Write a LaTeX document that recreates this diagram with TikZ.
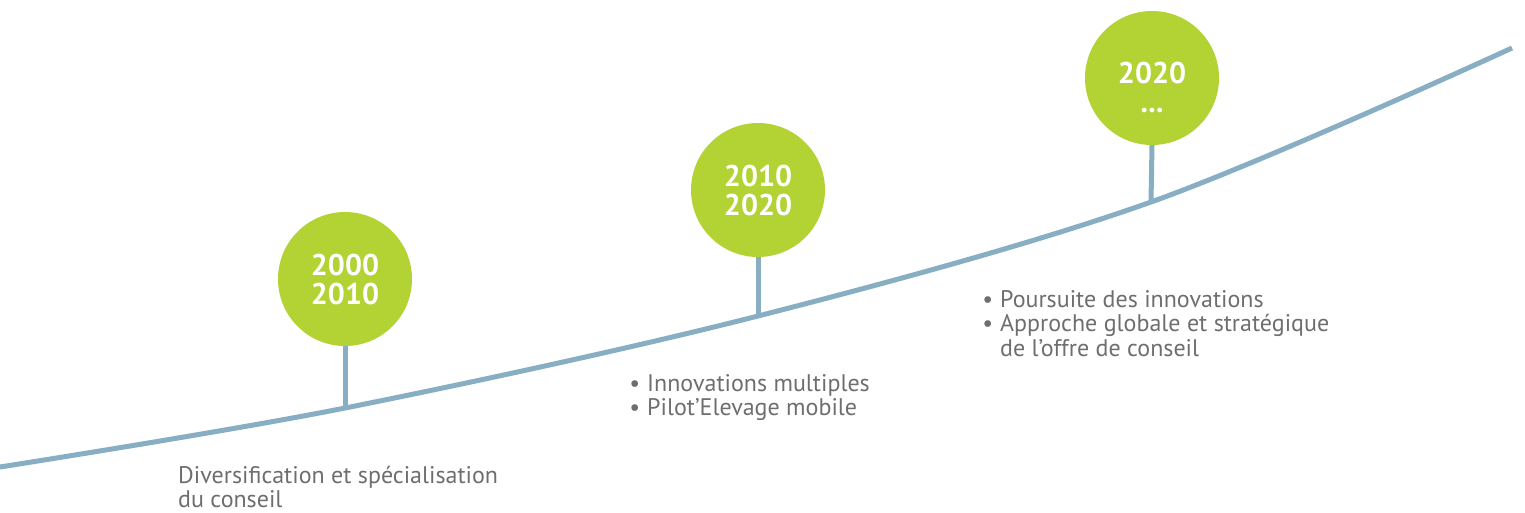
\documentclass[tikz,border=0pt]{standalone}
\usepackage{fontspec}
\setmainfont{PT Sans}
\definecolor{lime}{HTML}{B3D234}
\definecolor{steel}{HTML}{87AEC3}
\definecolor{txtgrey}{HTML}{6D6E70}
\begin{document}
\begin{tikzpicture}[x=1pt, y=-1pt,
        year/.style={circle, fill=lime, minimum size=134pt, inner sep=0pt,
            text=white, align=center, font=\fontsize{30}{29}\selectfont\bfseries},
        stem/.style={steel, line width=5pt},
        caption/.style={anchor=north west, inner sep=0pt, text=txtgrey,
            align=left, font=\fontsize{24}{24.5}\selectfont}]
        \useasboundingbox (0,0) rectangle (1525,512);
        % points on the line
        \coordinate (start) at (0,467);
        \coordinate (p1) at (345,408);
        \coordinate (p2) at (758,316);
        \coordinate (p3) at (1151,202);
        \coordinate (stop) at (1512,48);
        \draw[stem] plot[smooth, tension=0.55] coordinates {(start) (p1) (p2) (p3) (stop)};
        % the years
        \node[year] (y1) at (345,279) {2000\\2010};
        \node[year] (y2) at (758,190) {2010\\2020};
        \node[year, text height=69pt] (y3) at (1152,78) {2020\\...};
        \draw[stem] (y1.south) -- (p1);
        \draw[stem] (y2.south) -- (p2);
        \draw[stem] (y3.south) -- (p3);
        % the texts
        \node[caption] (t1) at (178,466) {Diversification et spécialisation\\du conseil};
        \node[caption] (t2) at (647,374) {\llap{•\hspace{7pt}}Innovations multiples\\\llap{•\hspace{7pt}}Pilot’Elevage mobile};
        \node[caption] (t3) at (1000,290) {\llap{•\hspace{7pt}}Poursuite des innovations\\\llap{•\hspace{7pt}}Approche globale et stratégique\\de l’offre de conseil};
\end{tikzpicture}
\end{document}
